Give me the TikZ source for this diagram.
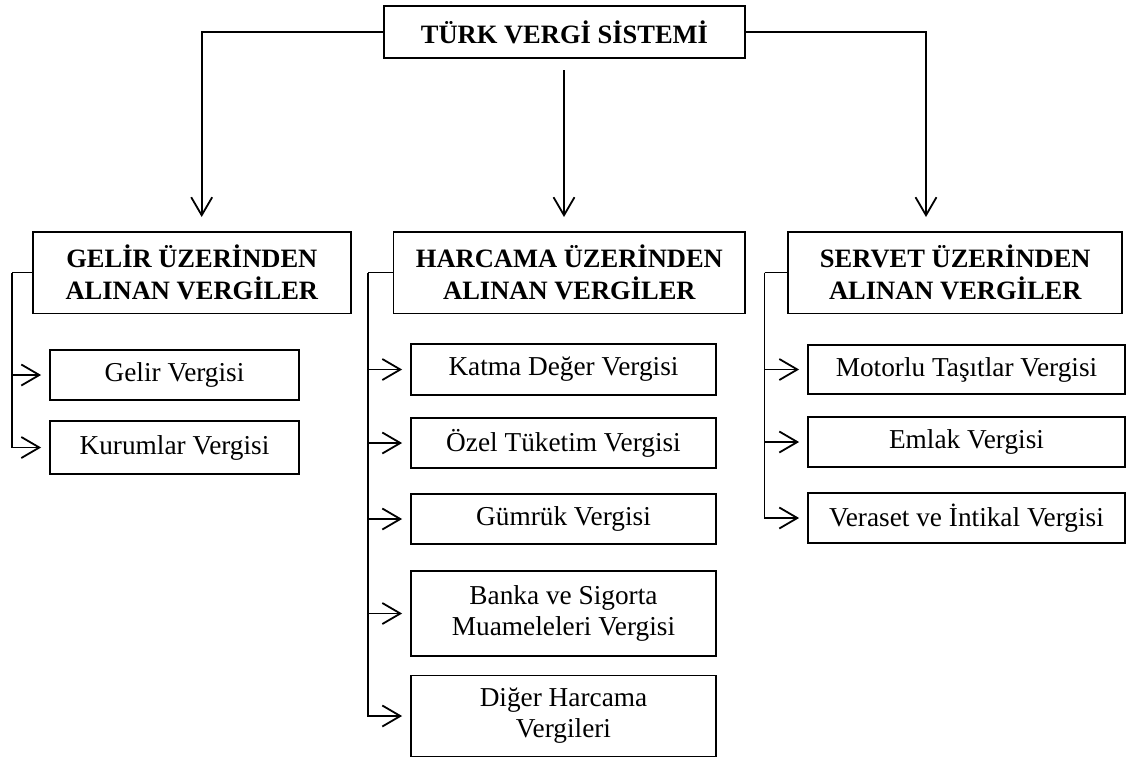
\documentclass[tikz,border=0pt]{standalone}
\usepackage{fontspec}
\setmainfont{Liberation Serif}
\usetikzlibrary{arrows.meta}
\newcommand\fsz{\fontsize{26.5}{32}\selectfont}
\newcommand\fsr{\fontsize{27.3}{31}\selectfont}
\tikzset{
  box/.style={draw, line width=1.8pt, inner sep=0pt, align=center, font=\fsr},
  boldbox/.style={box, font=\fsz\bfseries},
  conn/.style={line width=1.8pt, line join=miter},
  arr/.style={conn, -{Straight Barb[length=18pt,width=21pt,line width=1.8pt]}}
}
\begin{document}
\begin{tikzpicture}[x=1pt,y=-1pt]
\useasboundingbox (0,0) rectangle (1128,758);
% title
\node[boldbox, minimum width=361pt, minimum height=52pt] (t) at (564.5,32) {TÜRK VERGİ SİSTEMİ};
% level 2
\node[boldbox, minimum width=317.7pt, minimum height=81.8pt] (g) at (191.85,272.5) {GELİR ÜZERİNDEN\\ALINAN VERGİLER};
\node[boldbox, minimum width=351.8pt, minimum height=81.8pt] (h) at (569.4,272.5) {HARCAMA ÜZERİNDEN\\ALINAN VERGİLER};
\node[boldbox, minimum width=334pt, minimum height=81.8pt] (s) at (955.3,272.5) {SERVET ÜZERİNDEN\\ALINAN VERGİLER};
% children gelir
\node[box, minimum width=249pt, minimum height=50pt] (g1) at (174.5,375) {Gelir Vergisi};
\node[box, minimum width=249pt, minimum height=53pt] (g2) at (174.5,447.5) {Kurumlar Vergisi};
% children harcama
\node[box, minimum width=305pt, minimum height=51pt] (h1) at (563.5,369.5) {Katma Değer Vergisi};
\node[box, minimum width=305pt, minimum height=50pt] (h2) at (563.5,443) {Özel Tüketim Vergisi};
\node[box, minimum width=305pt, minimum height=50pt] (h3) at (563.5,519) {Gümrük Vergisi};
\node[box, minimum width=305pt, minimum height=85pt] (h4) at (563.5,613.5) {Banka ve Sigorta\\Muameleleri Vergisi};
\node[box, minimum width=305pt, minimum height=81pt] (h5) at (563.5,716) {Diğer Harcama\\Vergileri};
% children servet
\node[box, minimum width=317pt, minimum height=49pt] (s1) at (966.5,369.5) {Motorlu Taşıtlar Vergisi};
\node[box, minimum width=317pt, minimum height=50pt] (s2) at (966.5,442) {Emlak Vergisi};
\node[box, minimum width=317pt, minimum height=50pt] (s3) at (966.5,518) {Veraset ve İntikal Vergisi};
% top connectors
\coordinate (ga) at (201.7,217);
\coordinate (sa) at (926,217);
\coordinate (hs) at (564,70);
\coordinate (ha) at (564,217);
\draw[arr] (t.west) -| (ga);
\draw[arr] (t.east) -| (sa);
\draw[arr] (hs) -- (ha);
% branches
\coordinate (gb) at (11.7,272.5);
\coordinate (hb) at (368.3,272.5);
\coordinate (sb) at (764.5,272.5);
\draw[conn] (g.west) -- (gb);
\draw[conn] (h.west) -- (hb);
\draw[conn] (s.west) -- (sb);
\foreach \c in {g1,g2}{\draw[arr] (gb) |- ([xshift=-8pt]\c.west);}
\foreach \c in {h1,h2,h3,h4,h5}{\draw[arr] (hb) |- ([xshift=-8pt]\c.west);}
\foreach \c in {s1,s2,s3}{\draw[arr] (sb) |- ([xshift=-8pt]\c.west);}
\end{tikzpicture}
\end{document}
